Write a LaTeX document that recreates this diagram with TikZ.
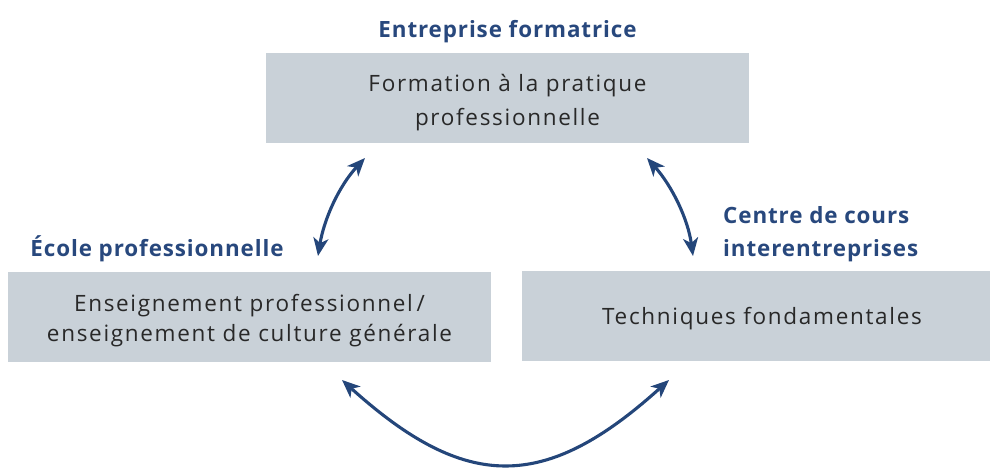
\documentclass[tikz,border=0pt]{standalone}
\usepackage{fontspec}
\setmainfont{Open Sans}
\newfontfamily\boxfont[LetterSpace=7.5]{Open Sans}
\newfontfamily\labfont[LetterSpace=4]{Open Sans}
\usetikzlibrary{arrows.meta}
\definecolor{boxgray}{RGB}{201,209,216}
\definecolor{titleblue}{RGB}{40,72,125}
\definecolor{arrowblue}{RGB}{36,70,122}
\definecolor{textgray}{RGB}{40,40,40}
\tikzset{
  graybox/.style={fill=boxgray, draw=none, minimum width=483pt, minimum height=90pt, inner sep=0pt},
  boxtext/.style={inner sep=0pt, align=center, text=textgray, font=\boxfont\fontsize{22.5}{34}\selectfont},
  titlelabel/.style={text=titleblue, font=\labfont\fontsize{22.4}{33}\selectfont\bfseries, inner sep=0pt},
  link/.style={draw=arrowblue, line width=3.1pt,
    {Stealth[length=18pt,width=15pt,inset=5pt]}-{Stealth[length=18pt,width=15pt,inset=5pt]}}
}
\begin{document}
\begin{tikzpicture}[x=1pt,y=-1pt]
\useasboundingbox (0,0) rectangle (990,468);
% boxes
\node[graybox] (top) at (507.5,98) {};
\node[graybox] (left) at (249.5,317) {};
\node[graybox, minimum width=468pt] (right) at (756,316) {};
% box texts
\node[boxtext] (toptext) at ([yshift=-4.5pt]top.center) {Formation à la pratique\\professionnelle};
\node[boxtext, font=\boxfont\fontsize{22.5}{29.5}\selectfont] (lefttext) at ([yshift=-3.5pt]left.center) {Enseignement professionnel\,/\\enseignement de culture générale};
\node[boxtext] (righttext) at ([xshift=6pt,yshift=-3pt]right.center) {Techniques fondamentales};
% labels
\node[titlelabel] (ttop) at (507.5,31.5) {Entreprise formatrice};
\node[titlelabel] (tleft) at (157,249) {École professionnelle};
\node[titlelabel, anchor=west, align=left] (tright) at (723,234.5) {Centre de cours\\interentreprises};
% arrow end points
\coordinate (a1) at (318,256);
\coordinate (a2) at (365,158);
\coordinate (b1) at (647,158);
\coordinate (b2) at (693,256);
\coordinate (c1) at (342,380);
\coordinate (c2) at (669,380);
% arrows
\draw[link] (a1) .. controls (324,219) and (339,186) .. (a2);
\draw[link] (b1) .. controls (672,186) and (688,219) .. (b2);
\draw[link] (c1) .. controls (466,492) and (545,492) .. (c2);
\end{tikzpicture}
\end{document}
